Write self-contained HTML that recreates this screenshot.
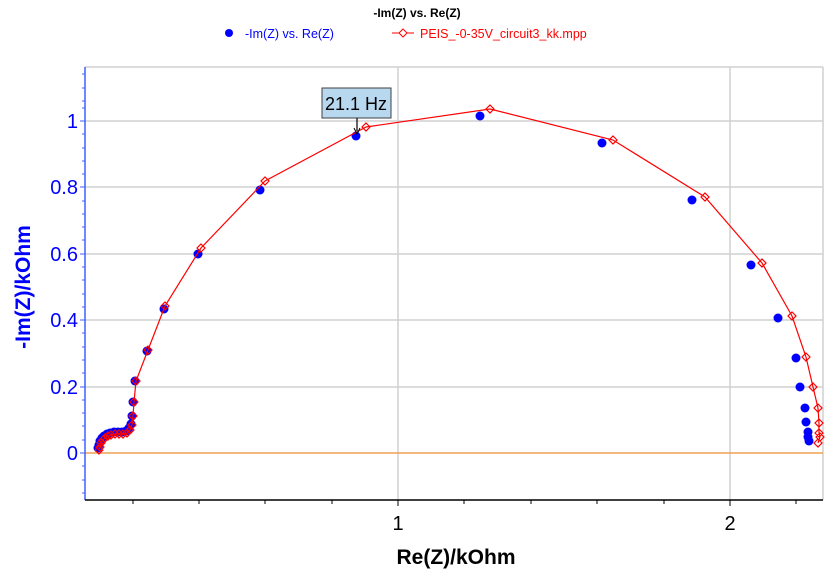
<!DOCTYPE html>
<html><head><style>body{margin:0;background:#fff}svg{display:block}</style></head><body>
<svg width="834" height="582" xmlns="http://www.w3.org/2000/svg" font-family="Liberation Sans, Arial, sans-serif">
<text x="417" y="17" text-anchor="middle" font-size="12" font-weight="bold" fill="#000">-Im(Z) vs. Re(Z)</text>
<circle cx="229" cy="33" r="4" fill="#0000ff"/>
<text x="245" y="38" font-size="12.5" fill="#0000ff">-Im(Z) vs. Re(Z)</text>
<line x1="392" y1="33" x2="414" y2="33" stroke="#ff0000"/>
<path d="M403 29 L407 33 L403 37 L399 33Z" fill="#fff" stroke="#ff0000"/>
<text x="420" y="38" font-size="12.5" fill="#ff0000">PEIS_-0-35V_circuit3_kk.mpp</text>
<g stroke="#d0d0d0" stroke-width="1.5">
<line x1="85" y1="121" x2="823" y2="121"/><line x1="85" y1="187" x2="823" y2="187"/><line x1="85" y1="254" x2="823" y2="254"/><line x1="85" y1="320" x2="823" y2="320"/><line x1="85" y1="387" x2="823" y2="387"/>
<line x1="398" y1="67" x2="398" y2="500"/><line x1="730" y1="67" x2="730" y2="500"/>
<line x1="85" y1="67" x2="823" y2="67"/><line x1="823" y1="67" x2="823" y2="500"/>
</g>
<line x1="85" y1="453" x2="823" y2="453" stroke="#f0a050" stroke-width="1.5"/>
<line x1="85" y1="67" x2="85" y2="500" stroke="#4060ff" stroke-width="1.5"/>
<line x1="85" y1="500" x2="823" y2="500" stroke="#000" stroke-width="1.5"/>
<g stroke="#4060ff" stroke-width="1">
<path d="M80 121h5M80 187h5M80 254h5M80 320h5M80 387h5M80 453h5"/>
<path d="M82 74h3M82 88h3M82 101h3M82 108h3M82 134h3M82 148h3M82 161h3M82 174h3M82 201h3M82 214h3M82 227h3M82 240h3M82 267h3M82 280h3M82 294h3M82 307h3M82 333h3M82 347h3M82 360h3M82 373h3M82 400h3M82 413h3M82 426h3M82 440h3M82 466h3M82 480h3M82 493h3"/>
</g>
<g stroke="#000"><path d="M133 500v4M199 500v4M265 500v4M332 500v4M398 500v6M464 500v4M531 500v4M597 500v4M664 500v4M730 500v6M796 500v4"/></g>
<g font-size="20" fill="#0000ff" text-anchor="end">
<text x="78" y="128">1</text><text x="78" y="194">0.8</text><text x="78" y="261">0.6</text><text x="78" y="327">0.4</text><text x="78" y="394">0.2</text><text x="78" y="460">0</text>
</g>
<text transform="translate(30,287) rotate(-90)" text-anchor="middle" font-size="21" font-weight="bold" fill="#0000ff">-Im(Z)/kOhm</text>
<g font-size="20" fill="#000" text-anchor="middle"><text x="398" y="530">1</text><text x="730" y="530">2</text></g>
<text x="456" y="564" text-anchor="middle" font-size="21" font-weight="bold" fill="#000">Re(Z)/kOhm</text>
<g fill="#0000ff">
<circle cx="98" cy="448" r="4.5"/><circle cx="99" cy="445" r="4.5"/><circle cx="100" cy="441" r="4.5"/><circle cx="102" cy="438" r="4.5"/><circle cx="104" cy="436" r="4.5"/><circle cx="107" cy="434" r="4.5"/><circle cx="110" cy="433" r="4.5"/><circle cx="114" cy="432" r="4.5"/><circle cx="118" cy="432" r="4.5"/><circle cx="122" cy="432" r="4.5"/><circle cx="126" cy="431" r="4.5"/><circle cx="129" cy="428" r="4.5"/><circle cx="131" cy="424" r="4.5"/><circle cx="132" cy="416" r="4.5"/><circle cx="133" cy="402" r="4.5"/><circle cx="135" cy="381" r="4.5"/><circle cx="147" cy="351" r="4.5"/><circle cx="164" cy="309" r="4.5"/><circle cx="198" cy="254" r="4.5"/><circle cx="260" cy="190" r="4.5"/><circle cx="356" cy="136" r="4.5"/><circle cx="480" cy="116" r="4.5"/><circle cx="602" cy="143" r="4.5"/><circle cx="692" cy="200" r="4.5"/><circle cx="751" cy="265" r="4.5"/><circle cx="778" cy="318" r="4.5"/><circle cx="796" cy="358" r="4.5"/><circle cx="800" cy="387" r="4.5"/><circle cx="805" cy="408" r="4.5"/><circle cx="806" cy="422" r="4.5"/><circle cx="808" cy="432" r="4.5"/><circle cx="808" cy="437" r="4.5"/><circle cx="809" cy="441" r="4.5"/>
</g>
<g fill="none" stroke="#ff0000" stroke-width="1.2">
<polyline points="99,450 100,447 101,443 103,440 105,438 108,436 111,435 115,434 119,434 123,434 127,433 130,430 132,425 133,416 134,402 136,381 148,350 165,306 201,248 265,181 366,127 490,109 613,140 705,197 762,263 792,316 806,357 813,387 818,408 819,423 819,433 820,437 818,443"/>
<path d="M99 446l4 4-4 4-4-4z M100 443l4 4-4 4-4-4z M101 439l4 4-4 4-4-4z M103 436l4 4-4 4-4-4z M105 434l4 4-4 4-4-4z M108 432l4 4-4 4-4-4z M111 431l4 4-4 4-4-4z M115 430l4 4-4 4-4-4z M119 430l4 4-4 4-4-4z M123 430l4 4-4 4-4-4z M127 429l4 4-4 4-4-4z M130 426l4 4-4 4-4-4z M132 421l4 4-4 4-4-4z M133 412l4 4-4 4-4-4z M134 398l4 4-4 4-4-4z M136 377l4 4-4 4-4-4z M148 346l4 4-4 4-4-4z M165 302l4 4-4 4-4-4z M201 244l4 4-4 4-4-4z M265 177l4 4-4 4-4-4z M366 123l4 4-4 4-4-4z M490 105l4 4-4 4-4-4z M613 136l4 4-4 4-4-4z M705 193l4 4-4 4-4-4z M762 259l4 4-4 4-4-4z M792 312l4 4-4 4-4-4z M806 353l4 4-4 4-4-4z M813 383l4 4-4 4-4-4z M818 404l4 4-4 4-4-4z M819 419l4 4-4 4-4-4z M819 429l4 4-4 4-4-4z M820 433l4 4-4 4-4-4z M818 439l4 4-4 4-4-4z"/>
</g>
<rect x="322" y="88" width="69" height="30" fill="#b8d8f0" stroke="#404040"/>
<text x="356" y="110" text-anchor="middle" font-size="18" fill="#000">21.1 Hz</text>
<line x1="357" y1="118" x2="357" y2="131" stroke="#000" stroke-width="1.2"/>
<path d="M354 128 L357 134 L360 128" fill="none" stroke="#000"/>
</svg>
</body></html>
